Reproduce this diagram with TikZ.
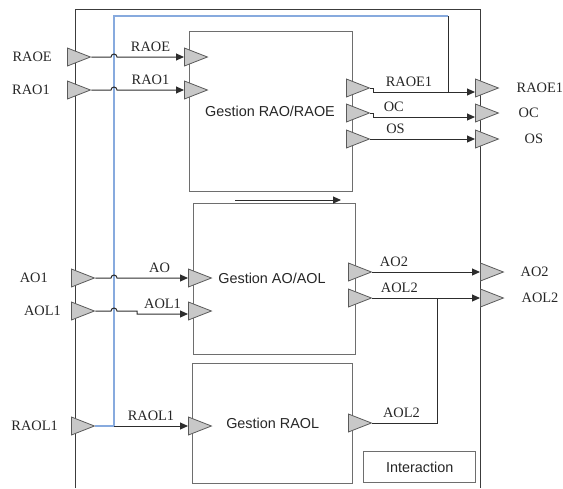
\documentclass[tikz,border=0pt]{standalone}
\usepackage{fontspec}
\setmainfont{Liberation Serif}
\setsansfont{Liberation Sans}
\usetikzlibrary{shapes.geometric, arrows.meta, positioning, calc}
\definecolor{boxgray}{RGB}{110,110,110}
\definecolor{framegray}{RGB}{60,60,60}
\definecolor{portfill}{RGB}{200,200,200}
\definecolor{portline}{RGB}{90,90,90}
\definecolor{wiregray}{RGB}{45,45,45}
\definecolor{busblue}{RGB}{135,170,222}
\tikzset{
  % functional block (Gestion ...)
  gestion/.style={rectangle, draw=boxgray, line width=1.4pt, text=black!85,
    font=\sffamily\fontsize{14.4}{17}\selectfont, inner sep=0pt},
  gtitle/.style={text=black!85, font=\sffamily\fontsize{14.4}{17}\selectfont, inner sep=0pt},
  % grey port triangle, placed by its base
  port/.style={isosceles triangle, isosceles triangle stretches, shape border rotate=0,
    minimum width=18pt, minimum height=23pt, inner sep=0pt,
    draw=portline, fill=portfill, line width=0.8pt, anchor=west},
  sig/.style={font=\fontsize{14.4}{17}\selectfont, text=black!85, inner sep=1pt},
  wire/.style={draw=wiregray, line width=1pt},
  wirearrow/.style={wire, -{Triangle[length=8pt,width=7pt]}},
  bus/.style={draw=busblue, line width=1.2pt},
  frame/.style={draw=framegray, line width=1pt}
}
\begin{document}
\begin{tikzpicture}[x=1pt, y=-1pt]
  \useasboundingbox (0,0) rectangle (563,488);

  % outer frame
  \draw[frame] (75,488) -- (75,9) -- (480,9) -- (480,488);

  % blocks
  \node[gestion, minimum width=163pt, minimum height=160pt, anchor=north west]
    (gRAO) at (189,31) {};
  \node[gtitle] (tRAO) at (270,111) {Gestion RAO/RAOE};
  \node[gestion, minimum width=162pt, minimum height=151pt, anchor=north west]
    (gAO) at (193,203) {};
  \node[gtitle] (tAO) at (272,278) {Gestion AO/AOL};
  \node[gestion, minimum width=160pt, minimum height=120pt, anchor=north west]
    (gRAOL) at (192,363) {Gestion RAOL};
  \node[gestion, minimum width=112pt, minimum height=31pt, anchor=north west]
    (inter) at (363,451) {Interaction};

  % ports on the frame, left
  \node[port] (pRAOE) at (67,57) {};
  \node[port] (pRAO1) at (67,90) {};
  \node[port] (pAO1) at (71,278) {};
  \node[port] (pAOL1) at (71,311) {};
  \node[port] (pRAOL1) at (71,426) {};
  \node[sig, left=14pt of pRAOE] {RAOE};
  \node[sig, left=16pt of pRAO1] {RAO1};
  \node[sig, left=22pt of pAO1] {AO1};
  \node[sig, left=9pt of pAOL1] {AOL1};
  \node[sig, left=12pt of pRAOL1] {RAOL1};

  % ports on the blocks
  \node[port] (iRAOE) at (184,57) {};
  \node[port] (iRAO1) at (184,90) {};
  \node[port] (oRAOE1) at (346,88) {};
  \node[port] (oOC) at (346,113) {};
  \node[port] (oOS) at (346,139) {};
  \node[port] (iAO) at (188,278) {};
  \node[port] (iAOL1) at (188,311) {};
  \node[port] (oAO2) at (348,272) {};
  \node[port] (oAOL2) at (348,298) {};
  \node[port] (iRAOL1) at (188,426) {};
  \node[port] (oRAOL) at (348,423) {};

  % ports on the frame, right
  \node[port] (qRAOE1) at (475,88) {};
  \node[port] (qOC) at (475,113) {};
  \node[port] (qOS) at (475,139) {};
  \node[port] (qAO2) at (480,272) {};
  \node[port] (qAOL2) at (480,298) {};
  \node[sig, right=16pt of qRAOE1] {RAOE1};
  \node[sig, right=18pt of qOC] {OC};
  \node[sig, right=24pt of qOS] {OS};
  \node[sig, right=15pt of qAO2] {AO2};
  \node[sig, right=16pt of qAOL2] {AOL2};

  % blue bus
  \coordinate (bus) at (114,16);
  \coordinate (busT) at (448,16);
  \coordinate (busJ) at ($(qRAOE1.west)+(0,4)$);
  \draw[bus] (pRAOL1.apex) -- (bus |- pRAOL1.apex) -- (bus) -- (busT);
  \draw[wire] (busT) -- (busT |- busJ);

  % inputs
  \draw[wirearrow] (pRAOE.apex) -- ($(pRAOE.apex -| bus)+(-3,0)$)
    arc[start angle=180, end angle=0, radius=3pt]
    -- node[sig, above=4pt] {RAOE} (iRAOE.west);
  \draw[wirearrow] (pRAO1.apex) -- ($(pRAO1.apex -| bus)+(-3,0)$)
    arc[start angle=180, end angle=0, radius=3pt]
    -- node[sig, above=4pt] {RAO1} (iRAO1.west);
  \draw[wirearrow] (pAO1.apex) -- ($(pAO1.apex -| bus)+(-3,0)$)
    arc[start angle=180, end angle=0, radius=3pt]
    -- node[sig, above=4pt, pos=0.6] {AO} (iAO.west);
  \coordinate (aolstep) at (137,311);
  \draw[wirearrow] (pAOL1.apex) -- ($(pAOL1.apex -| bus)+(-3,0)$)
    arc[start angle=180, end angle=0, radius=3pt]
    -- (aolstep) -- ($(aolstep)+(0,3)$)
    -- node[sig, above=4pt] {AOL1} ($(iAOL1.west)+(0,3)$);
  \draw[wirearrow] (bus |- pRAOL1.apex)
    -- node[sig, above=4pt] {RAOL1} (iRAOL1.west);

  % between blocks
  \coordinate (fbA) at (235,200);
  \coordinate (fbB) at (341,200);
  \draw[wirearrow] (fbA) -- (fbB);

  % outputs
  \draw[wirearrow] (oRAOE1.apex) -- ++(3,0) -- ++(0,4)
    -- node[sig, above=4pt, pos=0.35] {RAOE1} (busJ);
  \draw[wirearrow] (oOC.apex) -- ++(3,0) -- ++(0,4)
    -- node[sig, above=4pt, pos=0.2] {OC} ($(qOC.west)+(0,4)$);
  \draw[wirearrow] (oOS.apex)
    -- node[sig, above=4pt, pos=0.24] {OS} (qOS.west);
  \draw[wirearrow] (oAO2.apex)
    -- node[sig, above=4pt, pos=0.2] {AO2} (qAO2.west);
  \draw[wirearrow] (oAOL2.apex)
    -- node[sig, above=4pt, pos=0.25] {AOL2} (qAOL2.west);
  \coordinate (aolj) at (437,298);
  \draw[wire] (oRAOL.apex)
    -- node[sig, above=4pt, pos=0.45] {AOL2} (oRAOL.apex -| aolj) -- (aolj);
\end{tikzpicture}
\end{document}
